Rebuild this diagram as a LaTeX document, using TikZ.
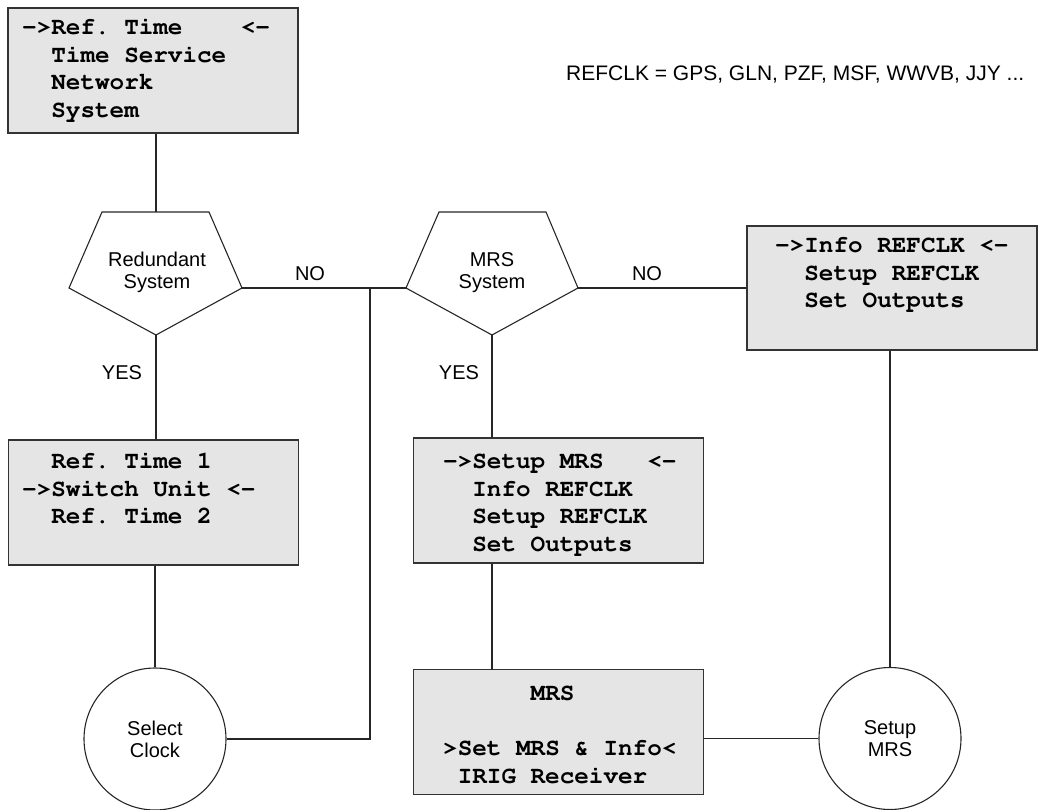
\documentclass[tikz,border=0pt]{standalone}
\usepackage[T1]{fontenc}
\usepackage{fontspec}
\setmainfont{Liberation Sans}
\newcommand\boxmono{\fontencoding{T1}\fontfamily{pcr}\fontseries{b}\selectfont}
\begin{document}
\begin{tikzpicture}[x=1pt,y=-1pt,
  screen/.style={draw=black!80, line width=1.3pt, fill=gray!20, inner sep=0, minimum width=290, minimum height=125},
  mono/.style={font=\boxmono\fontsize{24.3}{27.7}\selectfont, inner sep=0, anchor=base west},
  lab/.style={font=\fontsize{20}{22}\selectfont, align=center, inner sep=0},
  circ/.style={circle, draw=black!85, line width=1.1pt, minimum size=142, inner sep=0, font=\fontsize{20}{22}\selectfont, align=center},
  shapeline/.style={draw=black!85, line width=1.1pt},
  conn/.style={draw=black!85, line width=1.1pt}]
\useasboundingbox (0,0) rectangle (1044,809);
\newcommand\lines[1]{\begin{tabular}[t]{@{}l@{}}#1\end{tabular}}
% boxes
\node[screen] (box1) at (153,70.5) {};
\node[screen] (refsw) at (153.5,502.5) {};
\node[screen] (setupbox) at (558.5,500.5) {};
\node[screen] (mrs) at (558.5,732) {};
\node[screen, minimum height=124] (info) at (892,288) {};
% box texts
\node[mono] (t1) at (22,34.5) {\lines{->Ref.\ Time\hphantom{MMMM}<-\\\hphantom{MM}Time Service\\\hphantom{MM}Network\\\hphantom{MM}System}};
\node[mono] (t2) at (22,468.5) {\lines{\hphantom{MM}Ref.\ Time 1\\->Switch Unit <-\\\hphantom{MM}Ref.\ Time 2}};
\node[mono] (t3) at (443,468.5) {\lines{->Setup MRS\hphantom{MMM}<-\\\hphantom{MM}Info REFCLK\\\hphantom{MM}Setup REFCLK\\\hphantom{MM}Set Outputs}};
\node[mono] (t4) at (775,252.5) {\lines{->Info REFCLK <-\\\hphantom{MM}Setup REFCLK\\\hphantom{MM}Set Outputs}};
\node[mono] (t5) at (443,700.5) {\lines{\hphantom{MMMMMM}MRS\\ \\>Set MRS \& Info<\\\hphantom{M}IRIG Receiver}};
% pentagons
\coordinate (p1n) at (156,212);
\coordinate (p1w) at (69,288);
\coordinate (p1e) at (242,288);
\coordinate (p1s) at (156,335);
\draw[shapeline] (102,212) -- (209,212) -- (p1e) -- (p1s) -- (p1w) -- cycle;
\node[lab] (redund) at (157,272) {Redundant\\System};
\coordinate (p2n) at (492,212);
\coordinate (p2w) at (406,288);
\coordinate (p2e) at (578,288);
\coordinate (p2s) at (492,335);
\draw[shapeline] (439,212) -- (546,212) -- (p2e) -- (p2s) -- (p2w) -- cycle;
\node[lab] (mrssys) at (492,273) {MRS\\System};
% circles
\node[circ] (selclk) at (155,739) {Select\\Clock};
\node[circ] (setmrs) at (890,738.5) {Setup\\MRS};
% labels
\node[lab] (no1) at (310,274) {NO};
\node[lab] (no2) at (647,274) {NO};
\node[lab] (yes1) at (122,373) {YES};
\node[lab] (yes2) at (459,373) {YES};
\node[lab, anchor=west, font=\fontsize{21}{23}\selectfont] (refclk) at (566,75) {REFCLK = GPS, GLN, PZF, MSF, WWVB, JJY ...};
% connectors
\coordinate (jn) at (370,288);
\draw[conn] (box1.south -| p1n) -- (p1n);
\draw[conn] (p1s) -- (p1s |- refsw.north);
\draw[conn] (refsw.south -| selclk.north) -- (selclk.north);
\draw[conn] (p1e) -- (p2w);
\draw[conn] (jn) |- (selclk.east);
\draw[conn] (p2e) -- (p2e -| info.west);
\draw[conn] (p2s) -- (p2s |- setupbox.north);
\draw[conn] (setupbox.south -| p2s) -- (p2s |- mrs.north);
\draw[conn] (mrs.east |- setmrs.west) -- (setmrs.west);
\draw[conn] (info.south -| setmrs.north) -- (setmrs.north);
\end{tikzpicture}
\end{document}
